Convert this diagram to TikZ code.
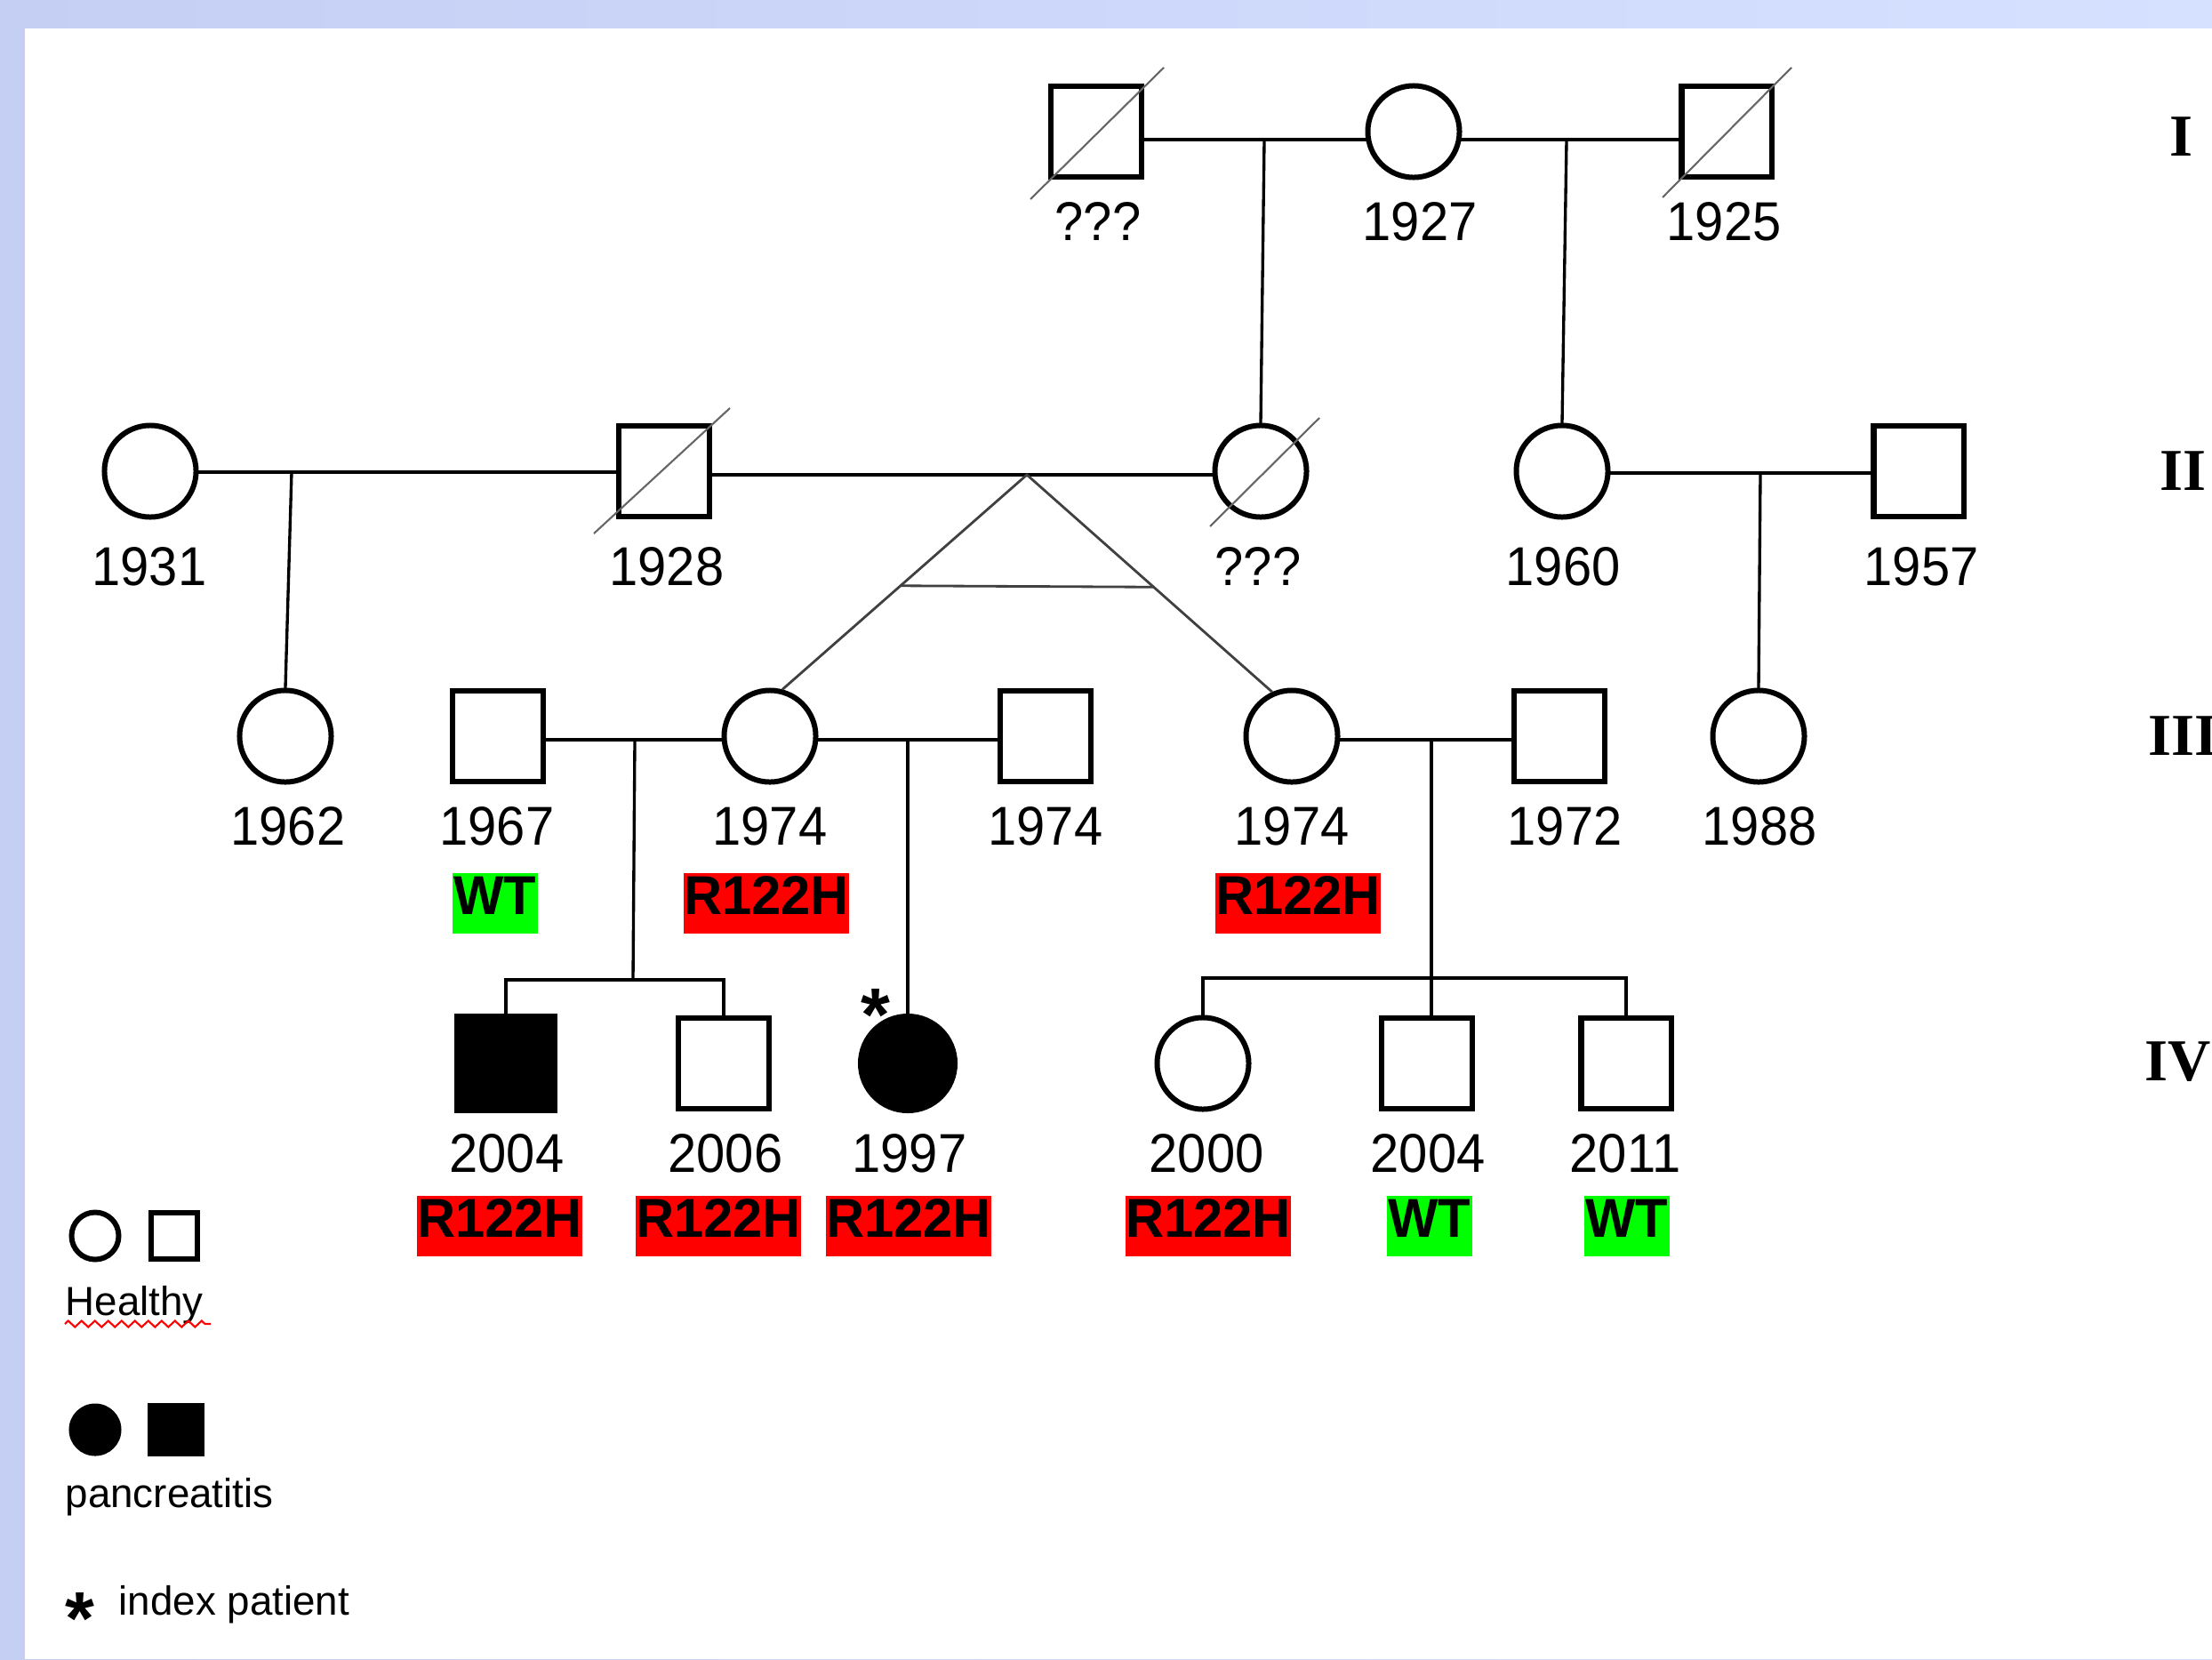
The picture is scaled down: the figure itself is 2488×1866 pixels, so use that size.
\documentclass[tikz,border=0pt]{standalone}
\usepackage{fontspec}
\setmainfont{Liberation Sans}
\newfontfamily\yearfont{Liberation Sans}[FakeStretch=0.94]
\newfontfamily\tagfont{Liberation Sans}[FakeStretch=0.97]
\newfontfamily\genfont{Liberation Serif}
\usetikzlibrary{calc,decorations.pathmorphing}

\begin{document}
\begin{tikzpicture}[x=0.01cm,y=-0.01cm,
  person/.style={draw=black, inner sep=0pt},
  male/.style={person, rectangle, line width=1.85pt, minimum size=1.015cm},
  female/.style={person, circle, line width=1.7pt, minimum size=1.03cm},
  affmale/.style={rectangle, fill=black, inner sep=0pt, minimum width=1.16cm, minimum height=1.12cm},
  afffemale/.style={circle, fill=black, inner sep=0pt, minimum size=1.12cm},
  rel/.style={line width=0.95pt, line cap=rect},
  twin/.style={line width=0.8pt, draw=black!75},
  dead/.style={line width=0.6pt, draw=black!60},
  year/.style={font=\yearfont\fontsize{17.5}{20}\selectfont, inner sep=0pt, text height=0.71em, text depth=0pt},
  tag/.style={font=\tagfont\fontsize{17.5}{20}\selectfont\bfseries, inner xsep=0pt, inner ysep=0pt,
              text height=0.71em, text depth=0pt, minimum height=0.68cm},
  mut/.style={tag, fill={rgb,255:red,255;green,0;blue,0}, minimum width=1.83cm},
  wt/.style={tag, fill={rgb,255:red,0;green,255;blue,0}, minimum width=0.95cm},
  gen/.style={font=\genfont\fontsize{19}{22}\selectfont\bfseries, inner sep=0pt, text height=0.66em, text depth=0pt},
  legtext/.style={font=\fontsize{13}{15}\selectfont, inner sep=0pt, anchor=base west},
  star/.style={font=\fontsize{24}{26}\selectfont\bfseries, inner sep=0pt, anchor=base}]

% frame
\useasboundingbox (0,0) rectangle (2488,1866);
\fill[left color={rgb,255:red,197;green,207;blue,244}, right color={rgb,255:red,214;green,224;blue,255}]
  (0,0) rectangle (2488,1866);
\fill[white] (28,32) rectangle (2488,1866);

% ---------- generation I ----------
\node[male]   (g1a) at (1233,148) {};
\node[female] (g1b) at (1590,148) {};
\node[male]   (g1c) at (1942,148) {};

% ---------- generation II ----------
\node[female] (g2a) at (169,530) {};
\node[male]   (g2b) at (747,530) {};
\node[female] (g2c) at (1418,530) {};
\node[female] (g2d) at (1757,530) {};
\node[male]   (g2e) at (2158,530) {};

% ---------- generation III ----------
\node[female] (g3a) at (321,828) {};
\node[male]   (g3b) at (560,828) {};
\node[female] (g3c) at (866,828) {};
\node[male]   (g3d) at (1176,828) {};
\node[female] (g3e) at (1453,828) {};
\node[male]   (g3f) at (1754,828) {};
\node[female] (g3g) at (1978,828) {};

% ---------- generation IV ----------
\node[affmale]   (g4a) at (569,1196) {};
\node[male]      (g4b) at (814,1196) {};
\node[afffemale] (g4c) at (1021,1196) {};
\node[female]    (g4d) at (1353,1196) {};
\node[male]      (g4e) at (1605,1196) {};
\node[male]      (g4f) at (1829,1196) {};

% deceased marks
\draw[dead] ($(g1a)+(-74,76)$) -- ($(g1a)+(76,-72)$);
\draw[dead] ($(g1c)+(-72,74)$) -- ($(g1c)+(73,-72)$);
\draw[dead] ($(g2b)+(-79,70)$) -- ($(g2b)+(74,-71)$);
\draw[dead] ($(g2c)+(-57,62)$) -- ($(g2c)+(66,-60)$);

% mating and descent lines
\coordinate (m1) at (1422,157);
\coordinate (m2) at (1762,157);
\coordinate (m3) at (328,531);
\coordinate (tw) at (1155,534);
\coordinate (m4) at (1980,532);
\coordinate (m5) at (714,832);
\coordinate (m6) at (1021,832);
\coordinate (m7) at (1610,832);
\coordinate (s1) at (712,1102);
\coordinate (s2) at (1610,1100);

\draw[rel] (g1a.east |- m1) -- (g1b.west |- m1);
\draw[rel] (g1b.east |- m2) -- (g1c.west |- m2);
\draw[rel] (m1) -- (g2c.north);
\draw[rel] (m2) -- (g2d.north);

\draw[rel] (g2a.east |- m3) -- (g2b.west |- m3);
\draw[rel] (m3) -- (g3a.north);
\draw[rel] (g2b.east |- tw) -- (g2c.west |- tw);
\draw[rel] (g2d.east |- m4) -- (g2e.west |- m4);
\draw[rel] (m4) -- (g3g.north);

% twins
\draw[twin] (g3c.75) -- (tw) -- (g3e.114);
\draw[twin] ($(tw)!0.517!(g3c.75)$) -- ($(tw)!0.517!(g3e.114)$);

\draw[rel] (g3b.east |- m5) -- (g3c.west |- m5);
\draw[rel] (g3c.east |- m6) -- (g3d.west |- m6);
\draw[rel] (g3e.east |- m7) -- (g3f.west |- m7);
\draw[rel] (m5) -- (s1);
\draw[rel] (m6) -- (g4c.north);
\draw[rel] (m7) -- (m7 |- g4e.north);
\draw[rel] (g4a.north) -- (g4a.north |- s1) -- (g4b.north |- s1) -- (g4b.north);
\draw[rel] (g4d.north) -- (g4d.north |- s2) -- (g4f.north |- s2) -- (g4f.north);

% birth years
\node[year] (y1a) at (1235,258) {???};
\node[year] (y1b) at (1597,258) {1927};
\node[year] (y1c) at (1939,258) {1925};
\node[year] (y2a) at (168,646) {1931};
\node[year] (y2b) at (750,646) {1928};
\node[year] (y2c) at (1415,646) {???};
\node[year] (y2d) at (1758,646) {1960};
\node[year] (y2e) at (2161,646) {1957};
\node[year] (y3a) at (324,938) {1962};
\node[year] (y3b) at (559,938) {1967};
\node[year] (y3c) at (866,938) {1974};
\node[year] (y3d) at (1176,938) {1974};
\node[year] (y3e) at (1453,938) {1974};
\node[year] (y3f) at (1760,938) {1972};
\node[year] (y3g) at (1979,938) {1988};
\node[year] (y4a) at (570,1306) {2004};
\node[year] (y4b) at (816,1306) {2006};
\node[year] (y4c) at (1023,1306) {1997};
\node[year] (y4d) at (1357,1306) {2000};
\node[year] (y4e) at (1606,1306) {2004};
\node[year] (y4f) at (1828,1306) {2011};

% genotypes
\node[wt]  (t3b) at (557,1016) {WT};
\node[mut] (t3c) at (862,1016) {R122H};
\node[mut] (t3e) at (1460,1016) {R122H};
\node[mut] (t4a) at (562,1379) {R122H};
\node[mut] (t4b) at (808,1379) {R122H};
\node[mut] (t4c) at (1022,1379) {R122H};
\node[mut] (t4d) at (1359,1379) {R122H};
\node[wt]  (t4e) at (1608,1379) {WT};
\node[wt]  (t4f) at (1830,1379) {WT};

% index patient
\node[star] (idx) at (985,1170) {*};

% generation numerals
\node[gen] (gI)   at (2453,164)  {I};
\node[gen] (gII)  at (2455,540)  {II};
\node[gen] (gIII) at (2455,838)  {III};
\node[gen] (gIV)  at (2450,1204) {IV};

% legend
\node[female, line width=1.7pt, minimum size=0.53cm] (lh1) at (107,1390) {};
\node[male, line width=1.9pt, minimum size=0.52cm]   (lh2) at (196,1390) {};
\node[legtext] (lht) at (73,1479) {Healthy};
\draw[red, line width=0.6pt, decorate, decoration={zigzag, segment length=0.15cm, amplitude=0.035cm}]
  (73,1489) -- (237,1489);
\node[afffemale, minimum size=0.59cm] (la1) at (107,1608) {};
\node[affmale, minimum width=0.63cm, minimum height=0.6cm] (la2) at (198,1608) {};
\node[legtext] (lat) at (73,1695) {pancreatitis};
\node[star] (lis) at (90,1849) {*};
\node[legtext] (list) at (133,1816) {index patient};

\end{tikzpicture}
\end{document}
